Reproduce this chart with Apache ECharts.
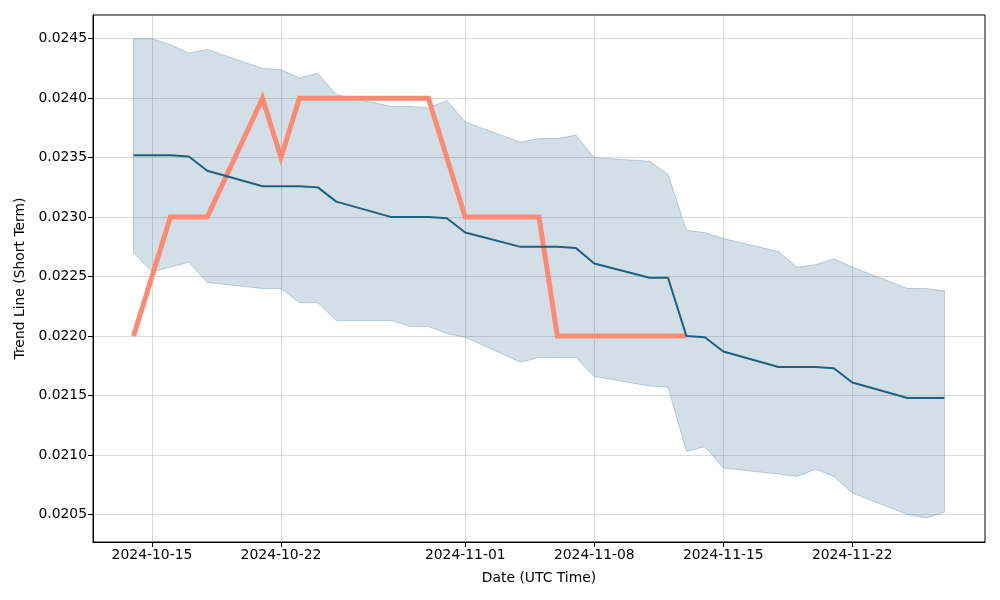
<!DOCTYPE html>
<html><head><meta charset="utf-8">
<script src="https://cdn.jsdelivr.net/npm/echarts@6/dist/echarts.min.js"></script>
<style>html,body{margin:0;padding:0;background:#fff}#c{width:1000px;height:600px}</style>
</head><body><div id="c"></div>
<script>
const dates = ['2024-10-14','2024-10-15','2024-10-16','2024-10-17','2024-10-18',
  '2024-10-21','2024-10-22','2024-10-23','2024-10-24','2024-10-25',
  '2024-10-28','2024-10-29','2024-10-30','2024-10-31','2024-11-01',
  '2024-11-04','2024-11-05','2024-11-06','2024-11-07','2024-11-08',
  '2024-11-11','2024-11-12','2024-11-13','2024-11-14','2024-11-15',
  '2024-11-18','2024-11-19','2024-11-20','2024-11-21','2024-11-22',
  '2024-11-25','2024-11-26','2024-11-27'];
const trend = [0.02352,0.02352,0.02352,0.02351,0.02339,
  0.02326,0.02326,0.02326,0.02325,0.02313,
  0.02300,0.02300,0.02300,0.02299,0.02287,
  0.02275,0.02275,0.02275,0.02274,0.02261,
  0.02249,0.02249,0.02200,0.02199,0.02187,
  0.02174,0.02174,0.02174,0.02173,0.02161,
  0.02148,0.02148,0.02148];
const upper = [0.02450,0.02450,0.02445,0.02438,0.02441,
  0.02425,0.02424,0.02417,0.02421,0.02403,
  0.02393,0.02393,0.02392,0.02398,0.02380,
  0.02363,0.02366,0.02366,0.02369,0.02350,
  0.02347,0.02336,0.02289,0.02287,0.02282,
  0.02271,0.02258,0.02260,0.02265,0.02258,
  0.02240,0.02240,0.02238];
const lower = [0.02270,0.02254,0.02258,0.02262,0.02245,
  0.02240,0.02240,0.02228,0.02228,0.02213,
  0.02213,0.02208,0.02208,0.02202,0.02199,
  0.02178,0.02182,0.02182,0.02182,0.02166,
  0.02158,0.02157,0.02103,0.02107,0.02089,
  0.02084,0.02082,0.02088,0.02082,0.02068,
  0.02050,0.02047,0.02052];
const priceDates = dates.slice(0, 23);
const price = [0.0220,0.0225,0.0230,0.0230,0.0230,
  0.0240,0.0235,0.0240,0.0240,0.0240,
  0.0240,0.0240,0.0240,0.0235,0.0230,
  0.0230,0.0230,0.0220,0.0220,0.0220,
  0.0220,0.0220,0.0220];
const xTicks = ['2024-10-15','2024-10-22','2024-11-01','2024-11-08','2024-11-15','2024-11-22'];
const yTicks = [0.0205,0.0210,0.0215,0.0220,0.0225,0.0230,0.0235,0.0240,0.0245];

const ts = s => Date.parse(s + 'T00:00:00Z');
const t0 = ts(dates[0]), t1 = ts(dates[dates.length - 1]);
const span = t1 - t0;
const xMin = t0 - 0.05 * span, xMax = t1 + 0.05 * span;
const yMin = 0.020269, yMax = 0.024699;
const pad = n => (n < 10 ? '0' : '') + n;
const fmtDate = v => { const d = new Date(v); return d.getUTCFullYear() + '-' + pad(d.getUTCMonth() + 1) + '-' + pad(d.getUTCDate()); };
const FONT = 'DejaVu Sans';
const FS = 13.9;
const BAND = '#1f5f80';

const bandData = dates.map((d, i) => [ts(d), lower[i], upper[i]]);

const chart = echarts.init(document.getElementById('c'), null, {renderer: 'canvas'});
chart.setOption({
  animation: false,
  backgroundColor: '#fff',
  grid: {left: 93, right: 15, top: 15, bottom: 58, show: true, borderColor: '#000', borderWidth: 1, backgroundColor: 'transparent'},
  xAxis: {
    type: 'value', min: xMin, max: xMax,
    name: 'Date (UTC Time)', nameLocation: 'middle', nameGap: 29,
    nameTextStyle: {fontFamily: FONT, fontSize: FS, color: '#000'},
    axisLine: {show: true, onZero: false, lineStyle: {color: '#000', width: 1}},
    axisTick: {show: true, length: 5, lineStyle: {color: '#000'}, customValues: xTicks.map(ts)},
    axisLabel: {fontFamily: FONT, fontSize: FS, color: '#000', margin: 6, customValues: xTicks.map(ts), formatter: fmtDate},
    splitLine: {show: true, lineStyle: {color: 'rgba(176,176,176,0.45)', width: 1}}
  },
  yAxis: {
    type: 'value', min: yMin, max: yMax,
    name: 'Trend Line (Short Term)', nameLocation: 'middle', nameGap: 66,
    nameTextStyle: {fontFamily: FONT, fontSize: FS, color: '#000'},
    axisLine: {show: true, onZero: false, lineStyle: {color: '#000', width: 1}},
    axisTick: {show: true, length: 5, lineStyle: {color: '#000'}, customValues: yTicks},
    axisLabel: {fontFamily: FONT, fontSize: FS, color: '#000', margin: 6, customValues: yTicks, formatter: v => v.toFixed(4)},
    splitLine: {show: true, lineStyle: {color: 'rgba(176,176,176,0.45)', width: 1}}
  },
  series: [
    {
      type: 'custom', silent: true, z: 1,
      data: bandData,
      encode: {x: 0, y: [1, 2]},
      renderItem: function (params, api) {
        if (params.dataIndex !== 0) return null;
        const top = bandData.map(p => api.coord([p[0], p[2]]));
        const bot = bandData.map(p => api.coord([p[0], p[1]])).reverse();
        return {
          type: 'polygon',
          shape: {points: top.concat(bot)},
          style: {fill: 'rgba(31,95,128,0.2)', stroke: 'rgba(31,95,128,0.25)', lineWidth: 1}
        };
      }
    },
    {type: 'line', symbol: 'none', silent: true, lineStyle: {color: '#ff8a73', width: 5, cap: 'butt', join: 'miter'},
      data: priceDates.map((d, i) => [ts(d), price[i]]), z: 3},
    {type: 'line', symbol: 'none', silent: true, lineStyle: {color: '#1f5f80', width: 2},
      data: dates.map((d, i) => [ts(d), trend[i]]), z: 4}
  ]
});
</script></body></html>
